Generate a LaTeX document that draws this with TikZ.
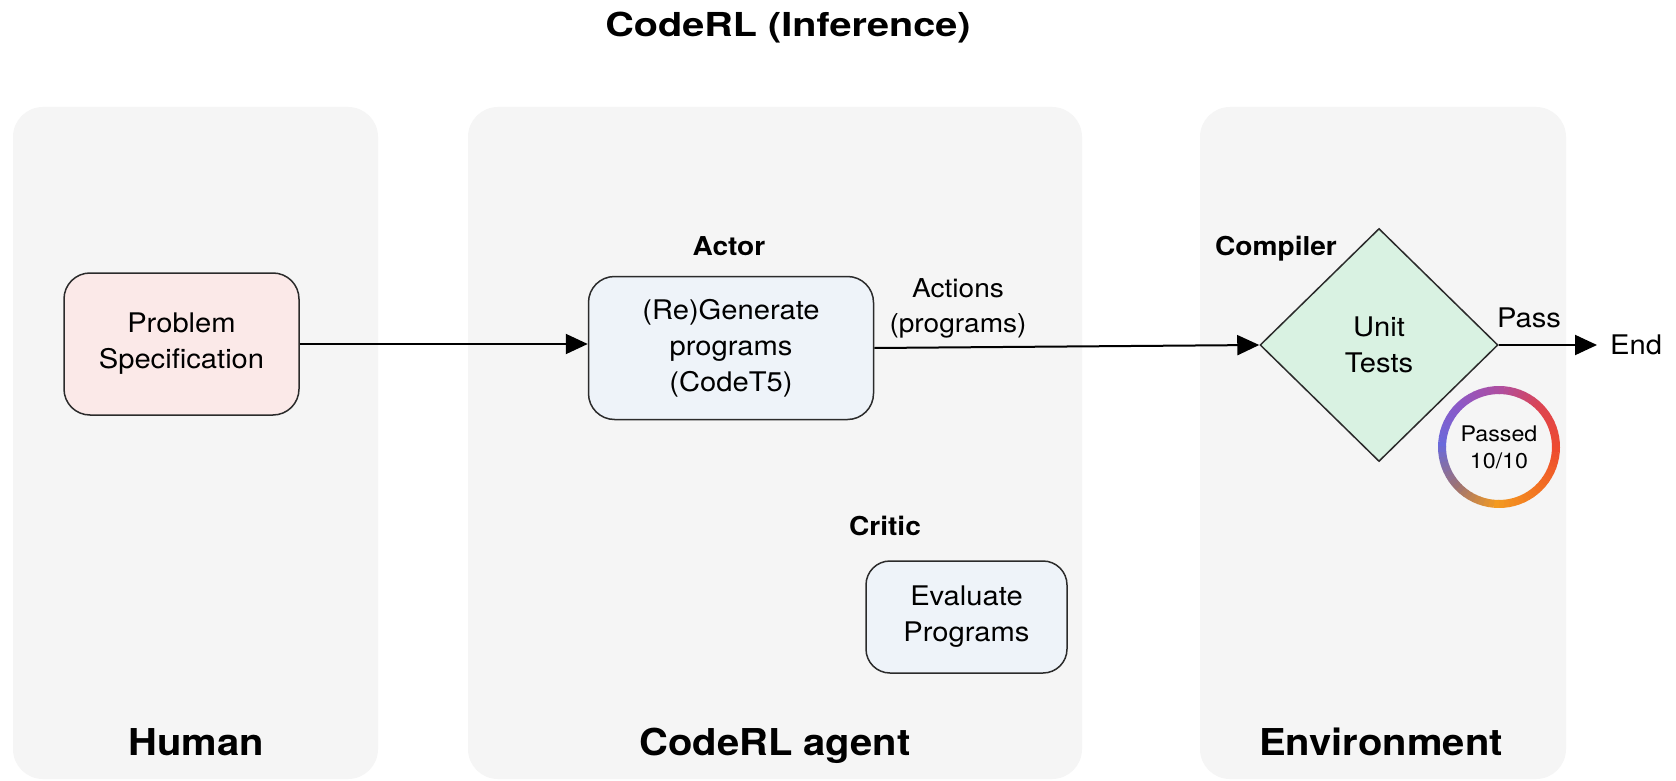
\documentclass[tikz,border=0pt]{standalone}
\usepackage{fontspec}
\setmainfont{TeX Gyre Heros}[FakeStretch=1.08]
\newfontfamily\headfamily{TeX Gyre Heros}[FakeStretch=1.2]
\usetikzlibrary{arrows.meta,shapes.geometric,calc}

\definecolor{panelfill}{HTML}{F5F5F5}
\definecolor{specfill}{HTML}{FBE9E8}
\definecolor{agentfill}{HTML}{EEF3F9}
\definecolor{testfill}{HTML}{D9F2E2}
\definecolor{edgec}{HTML}{2B2B2B}
% colours around the "Passed" ring, clockwise from the left
\definecolor{ringA}{HTML}{6A6ADB}
\definecolor{ringB}{HTML}{8D58C6}
\definecolor{ringC}{HTML}{B04E9E}
\definecolor{ringD}{HTML}{DD4450}
\definecolor{ringE}{HTML}{EE4A2E}
\definecolor{ringF}{HTML}{F27322}
\definecolor{ringG}{HTML}{F39A20}
\definecolor{ringH}{HTML}{9C7275}

\newcommand\bodyfont{\fontsize{27}{36}\selectfont}
\newcommand\rolefont{\fontsize{26}{31}\selectfont\bfseries}
\newcommand\lanefont{\fontsize{37}{44}\selectfont\bfseries}
\newcommand\flowfont{\fontsize{26}{35}\selectfont}
\newcommand\ringfont{\fontsize{21.5}{27}\selectfont}

\begin{document}
\begin{tikzpicture}[x=1pt,y=1pt,
  panel/.style={fill=panelfill, rounded corners=30pt},
  procbox/.style={draw=edgec, line width=1.5pt, rounded corners=26pt,
    align=center, inner sep=0pt, font=\bodyfont},
  testbox/.style={diamond, draw=edgec, line width=1.5pt, fill=testfill,
    align=center, inner sep=0pt, font=\bodyfont},
  rolelbl/.style={font=\rolefont, anchor=base, inner sep=0pt},
  lanelbl/.style={font=\lanefont, anchor=base, inner sep=0pt},
  flowlbl/.style={font=\flowfont, align=center, inner sep=0pt},
  flow/.style={draw=black, line width=2pt, -{Triangle[length=22pt,width=20pt]}},
]
\useasboundingbox[fill=white] (0,0) rectangle (1676,-781);

% swim lanes
\fill[panel] (13,-107) rectangle (378,-779);
\fill[panel] (468,-107) rectangle (1082,-779);
\fill[panel] (1200,-107) rectangle (1566,-779);

% title
\node[anchor=base, inner sep=0pt, font={\headfamily\fontsize{33}{40}\selectfont\bfseries}]
  (title) at (788,-37) {CodeRL (Inference)};

% lane names
\node[lanelbl] (human) at (196,-755) {Human};
\node[lanelbl] (agent) at (775,-755) {CodeRL agent};
\node[lanelbl] (env) at (1381,-755) {Environment};

% process boxes
\node[procbox, fill=specfill, minimum width=235, minimum height=142]
  (spec) at (181.5,-344) {Problem\\Specification};
\node[procbox, fill=agentfill, minimum width=285, minimum height=143]
  (actor) at (731,-348) {(Re)Generate\\programs\\(CodeT5)};
\node[procbox, fill=agentfill, minimum width=201, minimum height=112, rounded corners=24pt]
  (critic) at (966.5,-617) {Evaluate\\Programs};
\node[testbox, minimum width=238, minimum height=233]
  (unit) at (1379,-345) {Unit\\Tests};

% role labels
\node[rolelbl] (actorlbl) at (729,-255) {Actor};
\node[rolelbl] (complbl) at (1276,-255) {Compiler};
\node[rolelbl] (criticlbl) at (885,-535) {Critic};

% end marker
\node[font=\bodyfont, inner sep=0pt, anchor=west] (end) at (1610,-345) {End};

% connectors
\draw[flow] (spec.east) -- (spec.east -| actor.west);
\draw[flow] (actor.east) -- (unit.west);
\draw[flow, shorten >=13pt] (unit.east) -- (end.west);

% connector labels
\node[flowlbl] (acts) at (958,-308) {Actions\\(programs)};
\node[flowlbl, font=\bodyfont] (pass) at (1529,-318) {Pass};

% test result badge
\node[font=\ringfont, align=center, inner sep=0pt] (passed) at (1499,-447) {Passed\\10/10};
\foreach \a/\ca/\cb in {180/ringA/ringB, 135/ringB/ringC, 90/ringC/ringD, 45/ringD/ringE,
                       0/ringE/ringF, -45/ringF/ringG, -90/ringG/ringH, -135/ringH/ringA}{
  \foreach \k in {0,...,8}{
    \pgfmathtruncatemacro\p{100-\k*100/9}
    \pgfmathsetmacro\s{\a-\k*5}
    \draw[line width=8pt, \ca!\p!\cb]
      ($(passed.center)+(\s:57)$) arc[start angle=\s, end angle=\s-5.6, radius=57];
  }
}
\end{tikzpicture}
\end{document}
